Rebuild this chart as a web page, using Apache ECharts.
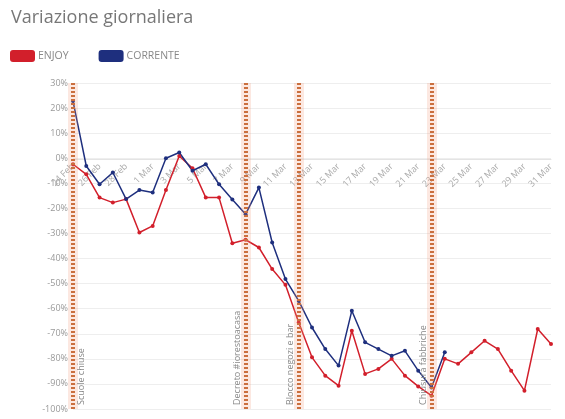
<!DOCTYPE html>
<html>
<head>
<meta charset="utf-8">
<script src="https://cdn.jsdelivr.net/npm/echarts@6/dist/echarts.min.js"></script>
<style>
html,body{margin:0;padding:0;background:#fff;}
#chart{width:565px;height:419px;}
</style>
</head>
<body>
<div id="chart"></div>
<script>
var dates = ['24 Feb','25 Feb','26 Feb','27 Feb','28 Feb','29 Feb','1 Mar','2 Mar','3 Mar','4 Mar','5 Mar','6 Mar','7 Mar','8 Mar','9 Mar','10 Mar','11 Mar','12 Mar','13 Mar','14 Mar','15 Mar','16 Mar','17 Mar','18 Mar','19 Mar','20 Mar','21 Mar','22 Mar','23 Mar','24 Mar','25 Mar','26 Mar','27 Mar','28 Mar','29 Mar','30 Mar','31 Mar'];
var enjoy = [-2.4,-6.4,-15.7,-17.7,-16.3,-29.6,-27,-12.7,0.9,-4,-15.7,-15.7,-33.9,-32.5,-35.6,-44.2,-50.5,-65.5,-79.4,-86.7,-90.7,-68.8,-86,-84,-80,-86.7,-91,-94.7,-80,-82,-77.4,-72.8,-76.1,-84.7,-92.7,-68.1,-74.1];
var corrente = [22.8,-3.1,-10.4,-5.7,-16.3,-12.7,-13.7,0,2.3,-5,-2.4,-10.4,-16.5,-22.3,-11.7,-33.6,-48.2,-56.9,-67.5,-76.1,-82.7,-60.8,-73.4,-76.1,-78.8,-76.8,-84.7,-91.4,-77.4];
var events = ['24 Feb','8 Mar','12 Mar','22 Mar'];
var eventLabels = ['Scuole chiuse','Decreto #iorestoacasa','Blocco negozi e bar','Chiusura fabbriche'];
var seriesNames = ['ENJOY','CORRENTE'];

var chart = echarts.init(document.getElementById('chart'));
var font = 'Open Sans';
var markData = events.map(function(d,i){
  return {xAxis: d, label: {show:true, formatter: eventLabels[i], position: i===0 ? 'insideStartBottom' : 'insideStartTop', color:'#888', fontSize:9, fontFamily:font, distance:4}};
});
var haloData = events.map(function(d){ return {xAxis: d}; });

chart.setOption({
  backgroundColor:'#fff',
  animation:false,
  title:{text:'Variazione giornaliera', left:6, top:4, textStyle:{fontSize:18, color:'#777', fontWeight:'normal', fontFamily:font}},
  legend:{left:5, top:45, itemWidth:25, itemHeight:12, itemGap:30, icon:'roundRect',
    textStyle:{fontSize:10.5, color:'#888', fontFamily:font, padding:[0,0,0,-2]},
    data: seriesNames},
  grid:{left:73, right:14, top:83, bottom:10},
  xAxis:{type:'category', data:dates, boundaryGap:false, position:'bottom', offset:-250,
    axisLine:{onZero:false, lineStyle:{color:'#e4e4e4'}},
    axisTick:{show:false},
    axisLabel:{rotate:45, interval:1, fontSize:9, color:'#aaa', fontFamily:font, margin:6},
    splitLine:{show:false}},
  yAxis:{type:'value', min:-100, max:30, interval:10,
    axisLine:{show:false}, axisTick:{show:false},
    axisLabel:{formatter:'{value}%', fontSize:9, color:'#999', fontFamily:font, margin:5},
    splitLine:{lineStyle:{color:'#eeeeee'}}},
  series:[
    {name:seriesNames[0], type:'line', data:enjoy, color:'#d21f2b', symbol:'circle', symbolSize:4,
      lineStyle:{width:1.5}, z:3,
      markLine:{symbol:'none', silent:true, animation:false,
        lineStyle:{color:'#c0642f', width:4, type:[2,2]}, data:markData}},
    {name:seriesNames[1], type:'line', data:corrente, color:'#1e2f7e', symbol:'circle', symbolSize:4,
      lineStyle:{width:1.5}, z:3,
      markLine:{symbol:'none', silent:true, animation:false,
        lineStyle:{color:'rgba(240,150,120,0.22)', width:10, type:'solid'}, label:{show:false}, data:haloData}}
  ]
});
</script>
</body>
</html>
